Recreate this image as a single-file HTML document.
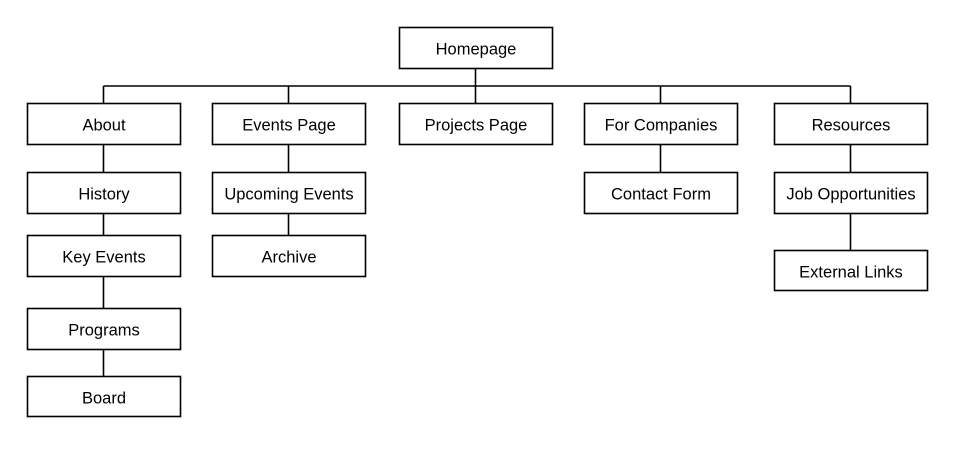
<!DOCTYPE html>
<html><head><style>
body{margin:0;background:#fff;width:954px;height:444px;overflow:hidden}
</style></head><body>
<svg width="954" height="444" xmlns="http://www.w3.org/2000/svg" font-family="Liberation Sans, sans-serif" font-size="16.5" fill="#000">
<g stroke="#000" stroke-width="1.6" fill="none">
<line x1="475.5" y1="68" x2="475.5" y2="103"/>
<line x1="103.5" y1="86" x2="850.5" y2="86"/>
<line x1="103.5" y1="86" x2="103.5" y2="103"/>
<line x1="288.5" y1="86" x2="288.5" y2="103"/>
<line x1="660.5" y1="86" x2="660.5" y2="103"/>
<line x1="850.5" y1="86" x2="850.5" y2="103"/>
<line x1="103.5" y1="144" x2="103.5" y2="376"/>
<line x1="288.5" y1="144" x2="288.5" y2="235"/>
<line x1="660.5" y1="144" x2="660.5" y2="172"/>
<line x1="850.5" y1="144" x2="850.5" y2="250"/>
</g>
<g stroke="#000" stroke-width="1.6" fill="#fff">
<rect x="399.5" y="27.5" width="153" height="41"/>
<rect x="27.5" y="103.5" width="153" height="41"/>
<rect x="212.5" y="103.5" width="153" height="41"/>
<rect x="399.5" y="103.5" width="153" height="41"/>
<rect x="584.5" y="103.5" width="153" height="41"/>
<rect x="774.5" y="103.5" width="153" height="41"/>
<rect x="27.5" y="172.5" width="153" height="41"/>
<rect x="212.5" y="172.5" width="153" height="41"/>
<rect x="584.5" y="172.5" width="153" height="41"/>
<rect x="774.5" y="172.5" width="153" height="41"/>
<rect x="27.5" y="235.5" width="153" height="41"/>
<rect x="212.5" y="235.5" width="153" height="41"/>
<rect x="774.5" y="250.5" width="153" height="40"/>
<rect x="27.5" y="308.5" width="153" height="41"/>
<rect x="27.5" y="376.5" width="153" height="40"/>
</g>
<g text-anchor="middle" dominant-baseline="central">
<text x="476" y="49.5">Homepage</text>
<text x="104" y="125.5">About</text>
<text x="289" y="125.5">Events Page</text>
<text x="476" y="125.5">Projects Page</text>
<text x="661" y="125.5">For Companies</text>
<text x="851" y="125.5">Resources</text>
<text x="104" y="194.5">History</text>
<text x="289" y="194.5">Upcoming Events</text>
<text x="661" y="194.5">Contact Form</text>
<text x="851" y="194.5">Job Opportunities</text>
<text x="104" y="257.5">Key Events</text>
<text x="289" y="257.5">Archive</text>
<text x="851" y="272.5">External Links</text>
<text x="104" y="330.5">Programs</text>
<text x="104" y="398.5">Board</text>
</g>
</svg>
</body></html>
